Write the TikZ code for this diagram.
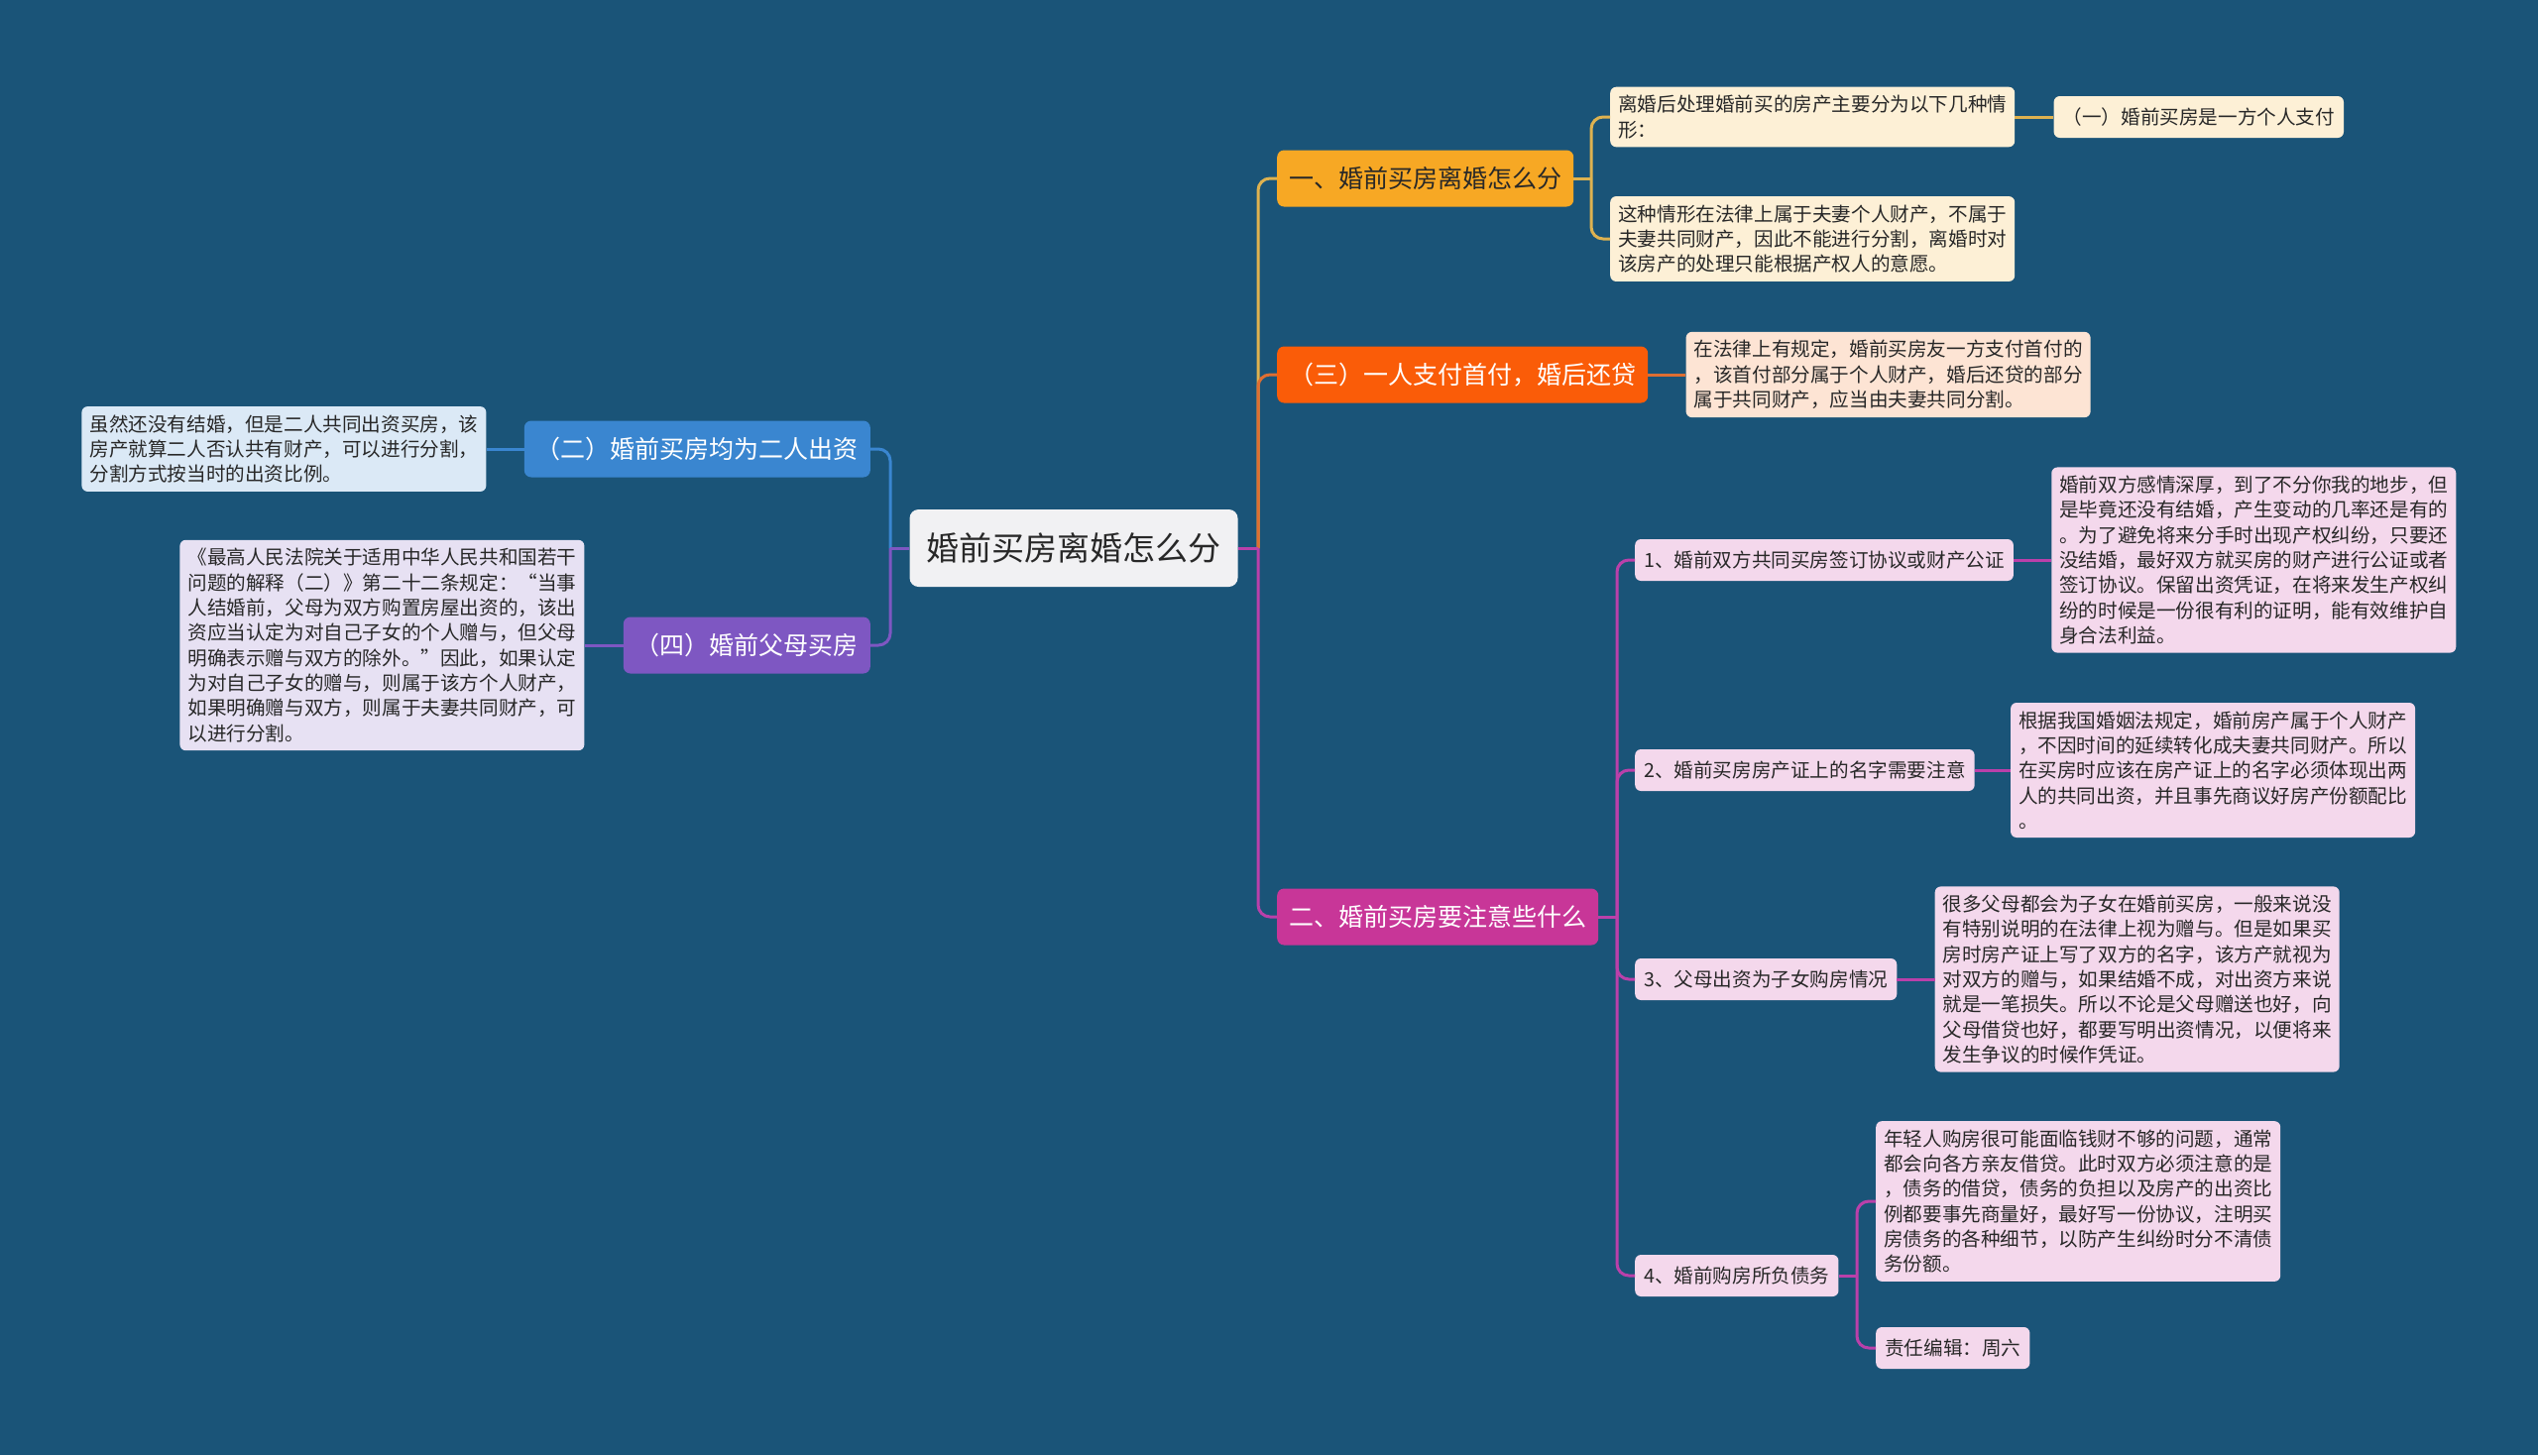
\documentclass[tikz,border=0pt]{standalone}
\usepackage{fontspec}
\setmainfont{Noto Sans CJK SC}
\usepackage{tikz}
\usetikzlibrary{positioning}
\definecolor{fondo}{RGB}{26,84,120}
\definecolor{raizc}{RGB}{241,241,243}
\definecolor{tinta}{RGB}{40,40,40}
\definecolor{oro}{RGB}{247,168,36}
\definecolor{orol}{RGB}{222,178,80}
\definecolor{oroc}{RGB}{253,240,214}
\definecolor{rojo}{RGB}{250,92,8}
\definecolor{rojol}{RGB}{222,110,50}
\definecolor{rojoc}{RGB}{253,228,212}
\definecolor{magen}{RGB}{200,54,152}
\definecolor{magenl}{RGB}{186,64,170}
\definecolor{magenc}{RGB}{244,216,236}
\definecolor{azul}{RGB}{58,134,208}
\definecolor{azulc}{RGB}{219,233,246}
\definecolor{lila}{RGB}{126,87,194}
\definecolor{lilac}{RGB}{231,225,243}
\tikzset{
  raiz/.style={rectangle, rounded corners=9pt, fill=raizc, text=tinta,
    inner xsep=17pt, minimum height=78pt, font=\fontsize{33}{40}\selectfont},
  rama/.style={rectangle, rounded corners=7pt, fill=#1, text=white,
    inner xsep=12pt, minimum height=57pt, font=\fontsize{25}{30}\selectfont},
  subrama/.style={rectangle, rounded corners=6pt, fill=#1, text=tinta,
    inner xsep=9pt, minimum height=42pt, font=\fontsize{19.6}{25.3}\selectfont},
  nota/.style={rectangle, rounded corners=6pt, fill=#1, text=tinta,
    inner xsep=8pt, inner ysep=8.5pt, align=left,
    font=\fontsize{19.6}{25.3}\selectfont},
  enlace/.style={line width=3pt, rounded corners=12pt, draw=#1}
}
\begin{document}
\begin{tikzpicture}[x=1pt, y=-1pt]
  \fill[fondo] (0,0) rectangle (2560,1468);
  \useasboundingbox (0,0) rectangle (2560,1468);

  % centro
  \node[raiz] (root) at (1083,553) {婚前买房离婚怎么分};
  \coordinate (rtrunk) at (1269,553);
  \coordinate (ltrunk) at (898,553);

  % rama derecha: un
  \node[rama=oro, text=tinta, anchor=west] (lihun) at (1288,180) {一、婚前买房离婚怎么分};
  \node[nota=oroc, anchor=west] (lihun-a) at (1624,118)
    {离婚后处理婚前买的房产主要分为以下几种情\\形：};
  \node[subrama=oroc, right=39pt of lihun-a] (lihun-a1) {（一）婚前买房是一方个人支付};
  \node[nota=oroc, anchor=west] (lihun-b) at (1624,241)
    {这种情形在法律上属于夫妻个人财产，不属于\\夫妻共同财产，因此不能进行分割，离婚时对\\该房产的处理只能根据产权人的意愿。};
  \coordinate (lihun-s) at (1605,180);

  % rama derecha: san
  \node[rama=rojo, anchor=west] (shoufu) at (1288,378) {（三）一人支付首付，婚后还贷};
  \node[nota=rojoc, right=38pt of shoufu] (shoufu-a)
    {在法律上有规定，婚前买房友一方支付首付的\\，该首付部分属于个人财产，婚后还贷的部分\\属于共同财产，应当由夫妻共同分割。};

  % rama derecha: er
  \node[rama=magen, anchor=west] (zhuyi) at (1288,925) {二、婚前买房要注意些什么};
  \coordinate (zhuyi-s) at (1631,925);
  \node[subrama=magenc, anchor=west] (zhuyi-1) at (1649,565) {1、婚前双方共同买房签订协议或财产公证};
  \node[nota=magenc, right=38pt of zhuyi-1] (zhuyi-1t)
    {婚前双方感情深厚，到了不分你我的地步，但\\是毕竟还没有结婚，产生变动的几率还是有的\\。为了避免将来分手时出现产权纠纷，只要还\\没结婚，最好双方就买房的财产进行公证或者\\签订协议。保留出资凭证，在将来发生产权纠\\纷的时候是一份很有利的证明，能有效维护自\\身合法利益。};
  \node[subrama=magenc, anchor=west] (zhuyi-2) at (1649,777) {2、婚前买房房产证上的名字需要注意};
  \node[nota=magenc, right=36pt of zhuyi-2] (zhuyi-2t)
    {根据我国婚姻法规定，婚前房产属于个人财产\\，不因时间的延续转化成夫妻共同财产。所以\\在买房时应该在房产证上的名字必须体现出两\\人的共同出资，并且事先商议好房产份额配比\\。};
  \node[subrama=magenc, anchor=west] (zhuyi-3) at (1649,988) {3、父母出资为子女购房情况};
  \node[nota=magenc, right=38pt of zhuyi-3] (zhuyi-3t)
    {很多父母都会为子女在婚前买房，一般来说没\\有特别说明的在法律上视为赠与。但是如果买\\房时房产证上写了双方的名字，该方产就视为\\对双方的赠与，如果结婚不成，对出资方来说\\就是一笔损失。所以不论是父母赠送也好，向\\父母借贷也好，都要写明出资情况，以便将来\\发生争议的时候作凭证。};
  \node[subrama=magenc, anchor=west] (zhuyi-4) at (1649,1287) {4、婚前购房所负债务};
  \coordinate (zhuyi-4s) at (1873,1287);
  \node[nota=magenc, anchor=west] (zhuyi-4t) at (1892,1212)
    {年轻人购房很可能面临钱财不够的问题，通常\\都会向各方亲友借贷。此时双方必须注意的是\\，债务的借贷，债务的负担以及房产的出资比\\例都要事先商量好，最好写一份协议，注明买\\房债务的各种细节，以防产生纠纷时分不清债\\务份额。};
  \node[subrama=magenc, anchor=west] (zhuyi-4e) at (1892,1360) {责任编辑：周六};

  % ramas izquierdas
  \node[rama=azul, anchor=east] (chuzi) at (878,453) {（二）婚前买房均为二人出资};
  \node[nota=azulc, left=38pt of chuzi] (chuzi-a)
    {虽然还没有结婚，但是二人共同出资买房，该\\房产就算二人否认共有财产，可以进行分割，\\分割方式按当时的出资比例。};
  \node[rama=lila, anchor=east] (fumu) at (878,651) {（四）婚前父母买房};
  \node[nota=lilac, left=39pt of fumu] (fumu-a)
    {《最高人民法院关于适用中华人民共和国若干\\问题的解释（二）》第二十二条规定：“当事\\人结婚前，父母为双方购置房屋出资的，该出\\资应当认定为对自己子女的个人赠与，但父母\\明确表示赠与双方的除外。”因此，如果认定\\为对自己子女的赠与，则属于该方个人财产，\\如果明确赠与双方，则属于夫妻共同财产，可\\以进行分割。};

  % enlaces
  \draw[enlace=orol] (rtrunk) |- (lihun.west);
  \draw[enlace=rojol] (rtrunk) |- (shoufu.west);
  \draw[enlace=magenl] (rtrunk) |- (zhuyi.west);
  \draw[enlace=magenl] (root.east) -- (rtrunk);
  \draw[enlace=azul] (ltrunk) |- (chuzi.east);
  \draw[enlace=lila] (ltrunk) |- (fumu.east);
  \draw[enlace=lila] (root.west) -- (ltrunk);

  \draw[enlace=orol] (lihun.east) -- (lihun-s);
  \draw[enlace=orol] (lihun-s) |- (lihun-a.west);
  \draw[enlace=orol] (lihun-s) |- (lihun-b.west);
  \draw[enlace=orol] (lihun-a.east) -- (lihun-a1.west);
  \draw[enlace=rojol] (shoufu.east) -- (shoufu-a.west);

  \draw[enlace=magenl] (zhuyi.east) -- (zhuyi-s);
  \foreach \k in {1,2,3,4}
    \draw[enlace=magenl] (zhuyi-s) |- (zhuyi-\k.west);
  \foreach \k in {1,2,3}
    \draw[enlace=magenl] (zhuyi-\k.east) -- (zhuyi-\k t.west);
  \draw[enlace=magenl] (zhuyi-4.east) -- (zhuyi-4s);
  \draw[enlace=magenl] (zhuyi-4s) |- (zhuyi-4t.west);
  \draw[enlace=magenl] (zhuyi-4s) |- (zhuyi-4e.west);

  \draw[enlace=azul] (chuzi.west) -- (chuzi-a.east);
  \draw[enlace=lila] (fumu.west) -- (fumu-a.east);
\end{tikzpicture}
\end{document}
